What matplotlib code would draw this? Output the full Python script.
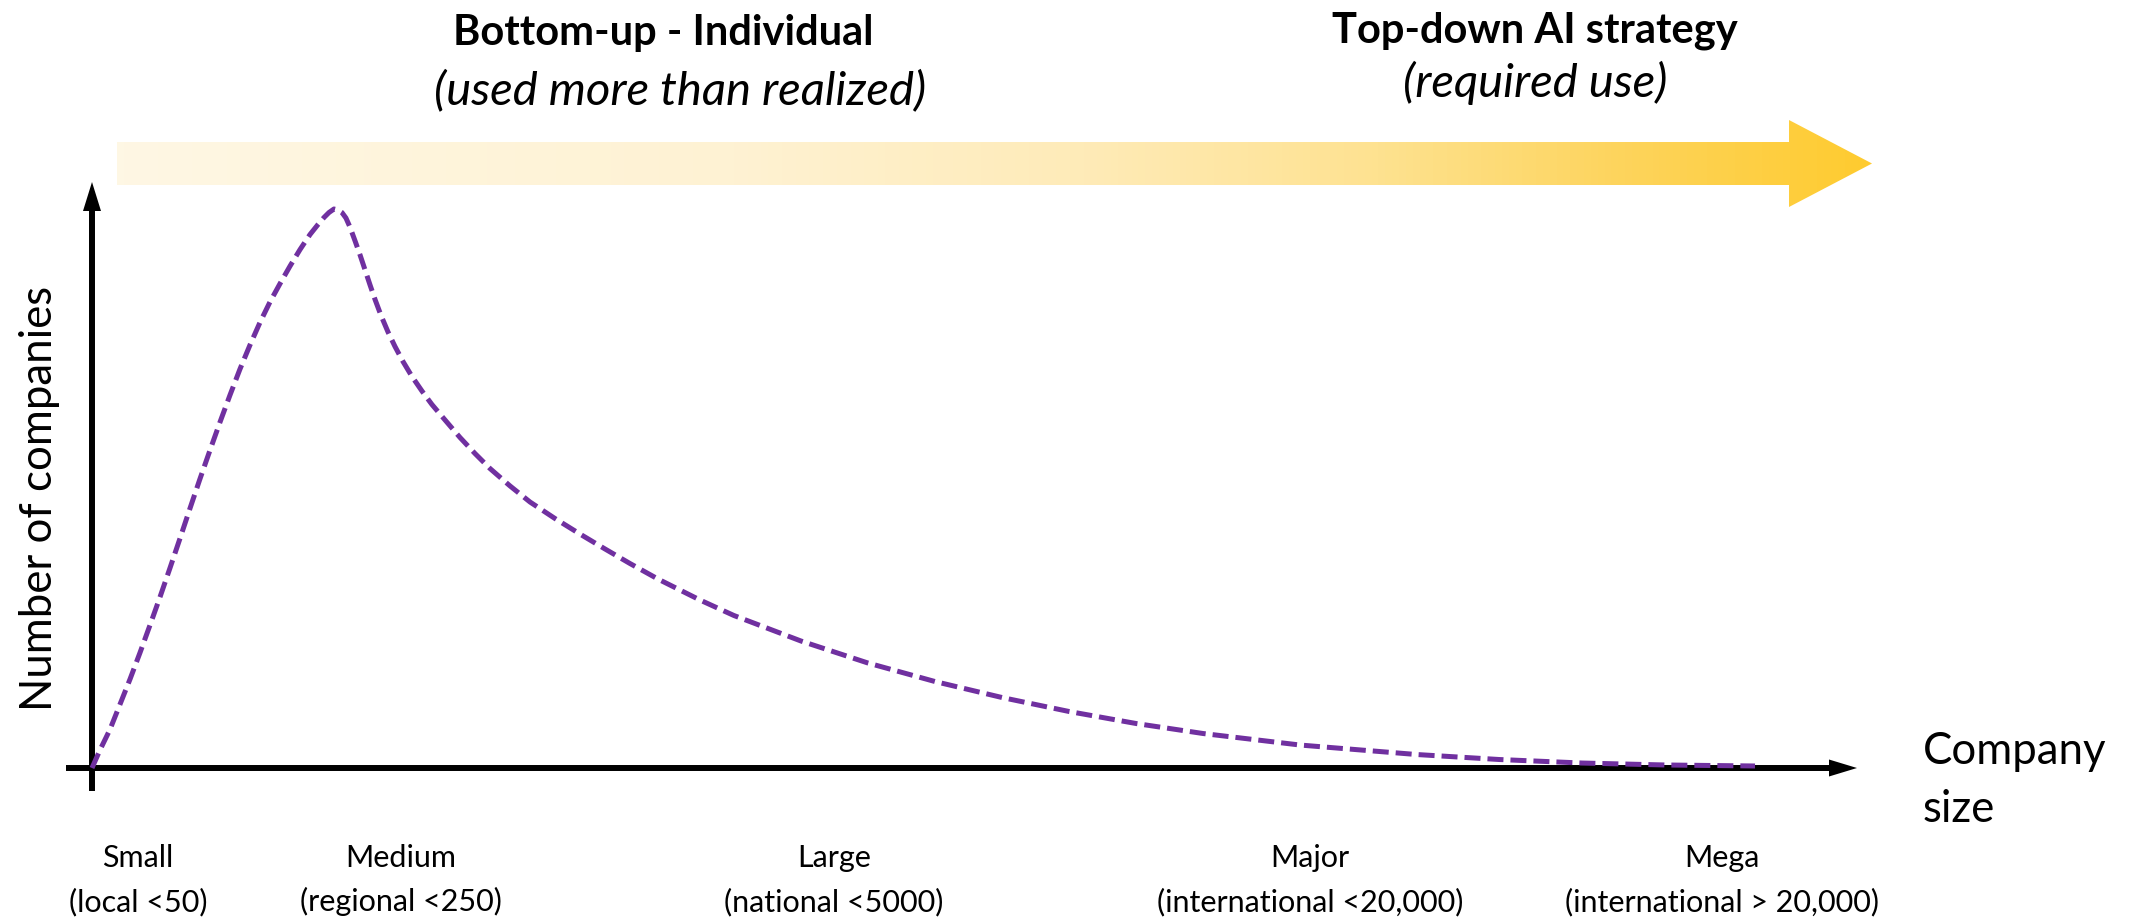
import matplotlib
matplotlib.use("Agg")
import numpy as np
import matplotlib.pyplot as plt
from matplotlib.patches import Polygon
from matplotlib.colors import LinearSegmentedColormap

# ---------------------------------------------------------------------------
# Data: relative company-size position (0 = origin, 100 = far end of the tail)
# and relative number of companies (peak = 100)
# ---------------------------------------------------------------------------
size_pos = [0, 0.48, 1.08, 1.68, 2.29, 2.89, 3.49, 4.09, 4.69, 5.29, 5.89,
            6.49, 7.10, 7.70, 8.30, 8.90, 9.50, 10.10, 10.70, 11.31, 11.91,
            12.51, 13.11, 13.59, 13.95, 14.25, 14.55, 14.79, 15.03, 15.27,
            15.51, 15.81, 16.12, 16.42, 16.72, 17.02, 17.38, 17.80, 18.22,
            18.70, 19.24, 19.84, 20.44, 21.23, 22.13, 23.03, 23.93, 25.14,
            26.34, 27.84, 29.34, 30.85, 32.35, 34.03, 36.56, 38.60, 42.63,
            46.66, 50.69, 54.72, 58.75, 62.78, 66.81, 72.64, 79.61, 84.61,
            89.60, 94.59, 100]
n_companies = [0, 3.22, 6.89, 11.36, 15.92, 20.66, 25.58, 30.59, 35.78,
               41.06, 46.42, 51.70, 56.89, 61.90, 66.73, 71.38, 75.67, 79.70,
               83.36, 86.67, 89.80, 92.75, 95.44, 97.23, 98.48, 99.37, 100,
               99.82, 99.37, 98.39, 96.78, 94.36, 91.77, 89.09, 86.40, 83.81,
               80.95, 78.00, 75.40, 72.72, 70.04, 67.44, 65.03, 62.25, 59.12,
               56.26, 53.58, 50.45, 47.58, 44.63, 41.86, 39.18, 36.58, 33.81,
               30.05, 27.28, 22.72, 18.78, 15.47, 12.61, 10.11, 7.96, 6.17,
               4.11, 2.42, 1.52, 0.89, 0.54, 0.36]

size_classes = ["Small", "Medium", "Large", "Major", "Mega"]
size_ranges = ["(local <50)", "(regional <250)", "(national <5000)",
               "(international <20,000)", "(international > 20,000)"]

# ---------------------------------------------------------------------------
# Layout (pixel canvas)
# ---------------------------------------------------------------------------
W, H = 2133, 924
DPI = 100
ORIGIN = (92, 768)          # where the two axis arrows cross
TAIL_END_X = 1755           # x pixel of size_pos == 100
PEAK_Y = 209                # y pixel of n_companies == 100
class_label_x = [138, 401, 834, 1310, 1722]

PURPLE = "#7030A0"
FONT = "Lato"

fig = plt.figure(figsize=(W / DPI, H / DPI), dpi=DPI)
fig.patch.set_facecolor("white")

# Decoration layer in pixel coordinates
deco = fig.add_axes([0, 0, 1, 1], zorder=0)
deco.set_xlim(0, W)
deco.set_ylim(H, 0)
deco.axis("off")

# Gradient arrow across the top
bar_top, bar_bot = 142, 185
x0, x_head, x_tip = 117, 1789, 1872
head_top, head_bot = 120, 207
arrow_pts = [(x0, bar_top), (x_head, bar_top), (x_head, head_top),
             (x_tip, (head_top + head_bot) / 2), (x_head, head_bot),
             (x_head, bar_bot), (x0, bar_bot)]
arrow_poly = Polygon(arrow_pts, closed=True, facecolor="none",
                     edgecolor="none")
deco.add_patch(arrow_poly)
grad_cmap = LinearSegmentedColormap.from_list(
    "gold_ramp",
    [(0.0, "#FEF7E4"), (0.35, "#FEF2D3"), (0.55, "#FEEBB8"),
     (0.72, "#FEE290"), (0.86, "#FDD45C"), (1.0, "#FFCB2F")])
grad = np.linspace(0, 1, 512).reshape(1, -1)
im = deco.imshow(grad, cmap=grad_cmap, aspect="auto",
                 extent=(x0, x_tip, head_bot, head_top), zorder=1)
im.set_clip_path(arrow_poly)

# Axis arrows
ox, oy = ORIGIN
AX_LW = 4.3
# x-axis
x_tip_ax = 1857
deco.plot([66, x_tip_ax - 26], [oy, oy], color="black", lw=AX_LW,
          solid_capstyle="butt", zorder=2)
deco.add_patch(Polygon([(x_tip_ax - 28, oy - 8.5), (x_tip_ax, oy),
                        (x_tip_ax - 28, oy + 8.5)], closed=True,
                       facecolor="black", edgecolor="none", zorder=2))
# y-axis
y_tip_ax = 182
deco.plot([ox, ox], [791, y_tip_ax + 27], color="black", lw=AX_LW,
          solid_capstyle="butt", zorder=2)
deco.add_patch(Polygon([(ox - 9, y_tip_ax + 29), (ox, y_tip_ax),
                        (ox + 9, y_tip_ax + 29)], closed=True,
                       facecolor="black", edgecolor="none", zorder=2))

# Headings
HEAD = 30
SUB = 34
AXT = 31.5
SMALL = 22
deco.text(663, 45, "Bottom-up - Individual", fontsize=HEAD,
          fontweight="bold", family=FONT, ha="center", va="baseline")
deco.text(680, 104, "(used more than realized)", fontsize=SUB,
          style="italic", family=FONT, ha="center", va="baseline")
deco.text(1535, 42, "Top-down AI strategy", fontsize=HEAD,
          fontweight="bold", family=FONT, ha="center", va="baseline")
deco.text(1535, 97, "(required use)", fontsize=SUB,
          style="italic", family=FONT, ha="center", va="baseline")

# Axis titles
deco.text(40, 498, "Number of companies", fontsize=AXT, family=FONT,
          rotation=90, ha="center", va="center")
deco.text(1923, 764, "Company", fontsize=AXT, family=FONT,
          ha="left", va="baseline")
deco.text(1923, 822, "size", fontsize=AXT, family=FONT,
          ha="left", va="baseline")

# Size-class labels under the x-axis
for xc, name, rng in zip(class_label_x, size_classes, size_ranges):
    deco.text(xc, 867, name, fontsize=SMALL, family=FONT,
              ha="center", va="baseline")
    deco.text(xc, 911, rng, fontsize=SMALL, family=FONT,
              ha="center", va="baseline")

# Data layer: the distribution curve
ax = fig.add_axes([ox / W, 1 - oy / H, (TAIL_END_X - ox) / W,
                   (oy - PEAK_Y) / H], zorder=1)
ax.set_xlim(0, 100)
ax.set_ylim(0, 100)
ax.patch.set_alpha(0)
ax.axis("off")
ax.plot(size_pos, n_companies, color=PURPLE, lw=3.6, dashes=(3.2, 1.4),
        solid_joinstyle="round", dash_joinstyle="round", clip_on=False)

fig.savefig("out.png", dpi=DPI, facecolor="white")
